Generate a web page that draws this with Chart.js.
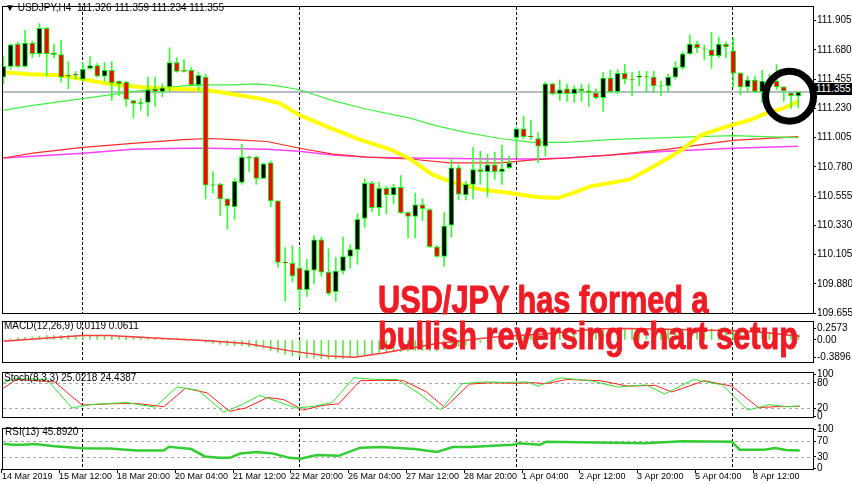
<!DOCTYPE html>
<html><head><meta charset="utf-8">
<script src="https://cdn.jsdelivr.net/npm/chart.js@4.4.1/dist/chart.umd.min.js"></script>
<style>
html,body{margin:0;padding:0;background:#fff;width:852px;height:485px;overflow:hidden;position:relative;font-family:"Liberation Sans",Arial,sans-serif}
canvas{position:absolute;left:0}
.lbl{position:absolute;font-size:10px;color:#000;white-space:pre;line-height:12px}
#note{position:absolute;left:378px;top:282px;color:#ee1c25;font-family:"Liberation Sans Narrow","Liberation Sans",sans-serif;font-weight:bold;font-size:38px;line-height:36px;white-space:pre;transform-origin:0 0;-webkit-text-stroke:1px #ee1c25}
#pbox{position:absolute;left:814px;top:83px;width:38px;height:12px;background:#000;color:#fff;font-size:10px;line-height:12px;padding-left:2px;box-sizing:border-box}
</style></head><body>
<canvas id="cMain" width="852" height="320" style="top:0"></canvas>
<canvas id="cMacd" width="852" height="54" style="top:315px"></canvas>
<canvas id="cSto" width="852" height="58" style="top:366px"></canvas>
<canvas id="cRsi" width="852" height="63" style="top:422px"></canvas>
<div class="lbl" style="left:5px;top:2px">▼ USDJPY,H4  111.326 111.359 111.234 111.355</div>
<div class="lbl" style="left:4px;top:320px">MACD(12,26,9) 0.0119 0.0611</div>
<div class="lbl" style="left:4px;top:372px">Stoch(8,3,3) 25.0218 24.4387</div>
<div class="lbl" style="left:5px;top:426px">RSI(13) 45.8920</div>
<div id="pbox">111.355</div>
<div id="note">USD/JPY has formed a
bullish reversing chart setup</div>
<script>
// ---------- DATA ----------
const opens  = [111.470,111.553,111.725,111.553,111.733,111.650,111.845,111.658,111.643,111.485,111.493,111.455,111.538,111.560,111.478,111.523,111.440,111.433,111.290,111.268,111.275,111.380,111.358,111.395,111.583,111.523,111.523,111.410,111.470,110.638,110.645,110.533,110.473,110.660,110.855,110.855,110.690,110.810,110.518,110.045,110.038,110.000,109.835,109.985,110.218,109.970,109.820,109.978,110.090,110.143,110.383,110.653,110.465,110.615,110.563,110.623,110.428,110.398,110.488,110.450,110.165,110.090,110.330,110.773,110.563,110.645,110.758,110.743,110.795,110.743,110.773,111.005,111.073,111.013,110.998,110.938,111.418,111.343,111.380,111.343,111.380,111.365,111.350,111.313,111.463,111.358,111.500,111.455,111.470,111.478,111.470,111.403,111.403,111.470,111.545,111.650,111.725,111.688,111.680,111.635,111.725,111.673,111.500,111.395,111.448,111.358,111.440,111.440,111.395,111.350,111.326];
const highs  = [111.628,111.725,111.740,111.830,111.748,111.883,111.853,111.725,111.755,111.590,111.515,111.583,111.628,111.575,111.583,111.590,111.440,111.440,111.290,111.305,111.470,111.470,111.418,111.695,111.620,111.605,111.545,111.508,111.493,110.743,110.653,110.533,110.690,110.953,110.863,110.863,110.810,110.825,110.518,110.158,110.173,110.158,110.068,110.248,110.240,110.150,110.083,110.240,110.180,110.420,110.690,110.668,110.660,110.630,110.645,110.713,110.435,110.578,110.533,110.458,110.173,110.428,110.840,110.795,110.668,110.930,110.900,110.878,110.893,110.945,110.863,111.088,111.170,111.140,111.043,111.433,111.425,111.448,111.418,111.403,111.418,111.418,111.380,111.508,111.523,111.530,111.568,111.508,111.515,111.515,111.515,111.440,111.493,111.590,111.665,111.793,111.748,111.718,111.815,111.778,111.740,111.770,111.508,111.478,111.478,111.523,111.493,111.568,111.395,111.350,111.359];
const lows   = [111.418,111.530,111.545,111.545,111.620,111.628,111.478,111.620,111.433,111.380,111.455,111.440,111.530,111.470,111.440,111.290,111.328,111.245,111.155,111.215,111.170,111.245,111.320,111.358,111.508,111.508,111.403,111.365,110.533,110.578,110.405,110.300,110.375,110.645,110.743,110.645,110.690,110.473,110.008,109.745,109.895,109.693,109.783,109.880,109.940,109.790,109.745,109.955,110.000,110.030,110.315,110.435,110.405,110.420,110.495,110.420,110.233,110.233,110.368,110.158,110.083,110.015,110.240,110.525,110.525,110.533,110.645,110.548,110.683,110.645,110.765,110.855,110.998,110.990,110.810,110.863,111.335,111.290,111.283,111.275,111.283,111.245,111.305,111.208,111.350,111.343,111.418,111.328,111.403,111.358,111.358,111.328,111.358,111.455,111.530,111.643,111.658,111.605,111.538,111.620,111.620,111.395,111.335,111.358,111.350,111.275,111.358,111.373,111.283,111.230,111.234];
const closes = [111.553,111.718,111.553,111.733,111.650,111.845,111.650,111.643,111.470,111.478,111.485,111.530,111.560,111.478,111.523,111.425,111.418,111.298,111.268,111.275,111.373,111.358,111.388,111.583,111.515,111.515,111.410,111.485,110.638,110.640,110.533,110.480,110.668,110.855,110.848,110.690,110.803,110.518,110.045,110.040,109.940,109.835,109.985,110.218,109.970,109.805,109.978,110.090,110.143,110.375,110.653,110.465,110.615,110.563,110.623,110.428,110.398,110.488,110.458,110.165,110.090,110.323,110.773,110.570,110.645,110.758,110.743,110.795,110.743,110.765,110.810,111.073,111.013,111.010,110.938,111.418,111.343,111.373,111.343,111.380,111.365,111.350,111.313,111.463,111.358,111.500,111.455,111.452,111.478,111.475,111.403,111.400,111.470,111.545,111.650,111.725,111.695,111.685,111.635,111.725,111.703,111.500,111.395,111.448,111.358,111.440,111.418,111.395,111.365,111.328,111.355];

// moving averages: knot bar index + value
const maYellowIdx = [0,3.7,7.8,10.9,14.8,18.9,23.1,27.9,31.4,35.5,38.3,41.0,45.2,49.3,53.5,56.3,59.4,61.8,65.9,70.1,73.8,76.7,78.8,81.2,86.7,89.4,91.8,94.0,96.4,98.7,100.9,103.3,105.6,107.9,110];
const maYellow    = [111.508,111.493,111.485,111.455,111.418,111.395,111.380,111.373,111.343,111.305,111.268,111.178,111.080,110.990,110.915,110.840,110.720,110.668,110.608,110.578,110.548,110.540,110.578,110.630,110.683,110.765,110.840,110.915,111.020,111.065,111.103,111.140,111.193,111.230,111.283];
const maGreenIdx = [0,4.1,11.0,17.9,24.9,28.6,31.8,35.1,37.9,41.0,45.6,50.3,56.3,59.4,64.1,68.7,73.3,77.9,83.9,91.8,100.9,110];
const maGreen    = [111.215,111.253,111.305,111.358,111.403,111.410,111.410,111.418,111.403,111.373,111.290,111.223,111.155,111.103,111.043,110.998,110.968,110.968,110.990,111.005,111.020,111.005];
const maRedIdx = [0,4.1,11.0,17.9,24.9,28.6,31.8,36.5,41.0,45.6,50.3,56.3,61.8,68.7,73.3,77.9,83.9,91.8,100.9,110];
const maRed    = [110.848,110.885,110.930,110.960,110.990,110.998,110.990,110.975,110.923,110.878,110.855,110.840,110.810,110.810,110.833,110.848,110.870,110.915,110.983,111.013];
const maPinkIdx = [0,11.0,17.9,24.9,28.6,36.5,41.0,45.6,50.3,56.3,68.7,73.3,77.9,83.9,91.8,100.9,110];
const maPink    = [110.848,110.885,110.915,110.923,110.923,110.915,110.900,110.870,110.855,110.848,110.840,110.840,110.848,110.870,110.900,110.923,110.938];

const macdHist = [0.02,0.03,0.05,0.06,0.07,0.09,0.10,0.10,0.10,0.10,0.10,
  0.10,0.10,0.10,0.09,0.09,0.08,0.07,0.06,0.05,0.04,0.04,0.04,
  0.04,0.04,0.03,0.02,0.01,-0.05,-0.08,-0.10,
  -0.12,-0.13,-0.13,-0.15,-0.16,-0.19,-0.24,-0.28,-0.32,-0.36,
  -0.38,-0.40,-0.41,-0.42,-0.43,-0.43,-0.42,-0.40,-0.38,-0.34,
  -0.31,-0.29,-0.27,-0.26,-0.26,-0.25,-0.24,-0.24,-0.24,-0.24,
  -0.22,-0.18,-0.15,-0.12,-0.09,-0.06,-0.04,-0.02,0.00,0.02,
  0.05,0.08,0.10,0.11,0.15,0.17,0.19,0.20,0.21,0.22,
  0.23,0.24,0.24,0.25,0.25,0.25,0.25,0.25,0.25,0.25,
  0.25,0.25,0.25,0.25,0.26,0.26,0.25,0.25,0.25,0.24,
  0.22,0.20,0.19,0.18,0.17,0.16,0.15,0.14,0.13,0.12];
const macdSigIdx = [0,10.9,14.6,22.2,28.3,33.6,39.5,44.9,48.6,52.4,60,67.6,75.1,82.6,86.4,90.1,97.7,101.5,105.3,110.2];
const macdSig    = [-0.03,0.10,0.10,0.03,-0.02,-0.08,-0.24,-0.36,-0.39,-0.30,-0.08,0.06,0.14,0.25,0.257,0.245,0.22,0.205,0.17,0.085];

const stoDIdx = [0,1.8,7.1,10.9,14.7,18.4,22.2,25.2,28.2,31.3,33.5,36.6,38.8,41.5,44.1,46.4,49.4,52.4,55.4,58.5,61.1,64.5,67.5,70.5,73.6,75.1,78.1,82.6,86.4,90.2,92.5,97,100.8,104.5,106.8,110.2];
const stoD    = [67,88,82,27,30,31,23,67,56,12,20,45,40,15,26,30,85,86,85,59,21,77,80,79,80,78,88,85,72,74,58,85,72,21,23,24];
const stoKIdx = [0,1.5,6,9.5,12,17,21,24,27,30.5,33,35.5,38,40.5,43,45.5,48.5,51.5,54.5,57.5,60.5,63.5,66.5,69.5,72.5,74,77,81.5,85,89,91.5,95.5,99.5,103,106,108.5,110.2];
const stoK    = [80,90,88,20,28,33,22,70,62,10,28,50,35,20,24,33,92,88,88,55,15,78,82,81,82,72,92,84,70,75,53,88,75,15,28,23,25];

const rsiIdx = [0,1.3,2.8,4.3,7.1,10.9,14.7,18.4,22.2,22.9,26,27.9,29.8,31.3,32.8,35,37.3,39.6,41.1,43.4,46.4,49.4,52.4,56.9,60,62.2,64.5,70.5,71.3,74.3,75.1,88.7,94,100.8,101.9,105.3,106.8,108.3,110.2];
const rsi    = [63.4,61.1,61.1,62.7,57.3,52.1,51.2,46,46,55.7,49.9,30.8,27.2,27.2,38.4,42.2,38.4,27.2,24.7,34.6,32.4,53.5,55,49.9,42.2,55,55,61.1,64.9,61.1,68.8,64.9,70.1,68.8,48.3,48.3,52.8,47.6,46.1];

const priceTicks = [111.905,111.680,111.455,111.230,111.005,110.780,110.555,110.330,110.105,109.880,109.655];
const macdTicks = [0.2573,0,-0.3896];
const stoTicks = [100,80,20,0];
const rsiTicks = [100,70,30,0];
const timeLabels = ["14 Mar 2019","15 Mar 12:00","18 Mar 20:00","20 Mar 04:00","21 Mar 12:00","22 Mar 20:00","26 Mar 04:00","27 Mar 12:00","28 Mar 20:00","1 Apr 04:00","2 Apr 12:00","3 Apr 20:00","5 Apr 04:00","8 Apr 12:00"];
const timeIdx = [0,8,16,24,32,40,48,56,64,72,80,88,96,104];
const weekSepIdx = [10.9,40.9,70.9,100.9];
const lastPrice = 111.355;
const circleAt = {idx:108.8, price:111.324};

// ---------- HELPERS ----------
const XMIN=-0.05, XMAX=112.04;
const pts=(ix,v)=>ix.map((x,i)=>({x:x,y:v[i]}));
const lineDs=(d,color,w,order)=>({type:'line',data:d,borderColor:color,borderWidth:w,pointRadius:0,tension:0,order:order});
const FONT={family:'Liberation Sans',size:10};

const decor={id:'decor',
  beforeDatasetsDraw(chart,a,o){
    const {ctx,chartArea:ca,scales:{x,y}}=chart;
    ctx.save();
    ctx.strokeStyle='#a8a8a8';ctx.lineWidth=1;ctx.setLineDash([3,3]);
    (o.hl||[]).forEach(v=>{const yy=Math.round(y.getPixelForValue(v))+0.5;ctx.beginPath();ctx.moveTo(ca.left,yy);ctx.lineTo(ca.right,yy);ctx.stroke();});
    ctx.strokeStyle='#000';ctx.setLineDash([3,2]);
    weekSepIdx.forEach(v=>{const xx=Math.round(x.getPixelForValue(v))+0.5;ctx.beginPath();ctx.moveTo(xx,ca.top);ctx.lineTo(xx,ca.bottom);ctx.stroke();});
    ctx.setLineDash([]);
    if(o.price!==undefined){const yy=y.getPixelForValue(o.price);ctx.strokeStyle='#b4bcc6';ctx.lineWidth=2;ctx.beginPath();ctx.moveTo(ca.left,yy);ctx.lineTo(ca.right,yy);ctx.stroke();}
    ctx.restore();
  },
  afterDraw(chart,a,o){
    const {ctx,chartArea:ca,scales:{x,y}}=chart;
    ctx.save();
    ctx.strokeStyle='#000';ctx.lineWidth=1;
    ctx.strokeRect(ca.left-0.5,ca.top-0.5,ca.right-ca.left+1,ca.bottom-ca.top+1);
    if(o.circle){ctx.lineWidth=7;ctx.beginPath();ctx.ellipse(x.getPixelForValue(o.circle.idx),y.getPixelForValue(o.circle.price),24,25,0,0,Math.PI*2);ctx.stroke();}
    if(o.xlabels){ctx.fillStyle='#000';ctx.font='9px "Liberation Sans"';ctx.textBaseline='middle';ctx.lineWidth=1;
      timeIdx.forEach((ix,i)=>{const xx=Math.round(x.getPixelForValue(ix))-2;ctx.beginPath();ctx.moveTo(xx+0.5,ca.bottom);ctx.lineTo(xx+0.5,ca.bottom+4);ctx.stroke();ctx.fillText(timeLabels[i],Math.max(xx,2),ca.bottom+8);});}
    ctx.restore();
  }};

function yAxis(min,max,ticks,fmt){
  return {position:'right',min:min,max:max,
    afterBuildTicks:s=>{s.ticks=ticks.map(v=>({value:v}));},
    afterFit:s=>{s.width=39;},
    grid:{display:true,drawOnChartArea:false,drawTicks:true,tickLength:3,color:'#000'},
    border:{display:false},
    ticks:{font:FONT,color:'#000',padding:1,autoSkip:false,callback:fmt}};
}
function xAxis(){return {type:'linear',min:XMIN,max:XMAX,offset:false,display:false,bounds:'ticks'};}
function mk(id,datasets,y,pad,plug){
  return new Chart(document.getElementById(id),{type:'bar',data:{datasets:datasets},
    options:{responsive:false,animation:false,devicePixelRatio:1,
      layout:{padding:Object.assign({left:3,right:0},pad)},
      plugins:{legend:{display:false},tooltip:{enabled:false},decor:plug},
      datasets:{bar:{grouped:false}},
      scales:{x:xAxis(),y:y}},plugins:[decor]});
}

// ---------- MAIN ----------
const bodies=opens.map((o,i)=>{const lo=Math.min(o,closes[i]),hi=Math.max(o,closes[i]);return {x:i,y:[lo,hi-lo<0.004?lo+0.004:hi]};});
const bodyColors=opens.map((o,i)=>closes[i]>o?'#000000':'#ff0000');
const wicks=highs.map((h,i)=>({x:i,y:[lows[i],h]}));
mk('cMain',[
  {type:'bar',data:bodies,backgroundColor:bodyColors,borderColor:'#00ff00',borderWidth:1,borderSkipped:false,barThickness:5,order:0},
  {type:'bar',data:wicks,backgroundColor:'#33ff33',barThickness:1,order:1},
  lineDs(pts(maYellowIdx,maYellow),'#ffff00',4,2),
  lineDs(pts(maGreenIdx,maGreen),'#40f040',1.2,3),
  lineDs(pts(maRedIdx,maRed),'#ff2a2a',1.2,4),
  lineDs(pts(maPinkIdx,maPink),'#ff40ff',1.4,5)
], yAxis(109.655,112.01,priceTicks,v=>v.toFixed(3)), {top:1,bottom:5},
 {price:lastPrice,circle:circleAt});

// ---------- MACD ----------
mk('cMacd',[
  {type:'bar',data:macdHist.map((v,i)=>({x:i,y:v})),backgroundColor:'#66e04a',barThickness:1,order:1},
  lineDs(pts(macdSigIdx,macdSig),'#ff3a3a',1.5,0)
], yAxis(-0.496,0.404,macdTicks,v=>v===0?'0.00':v.toFixed(4)), {top:2,bottom:3}, {});

// ---------- STOCH ----------
mk('cSto',[
  lineDs(pts(stoDIdx,stoD),'#ff2020',1,1),
  lineDs(pts(stoKIdx,stoK),'#30e030',1,0)
], yAxis(-1.4,103.3,stoTicks,v=>String(v)), {top:2,bottom:2}, {hl:[80,20]});

// ---------- RSI ----------
mk('cRsi',[
  lineDs(pts(rsiIdx,rsi),'#33cc33',2.5,0)
], yAxis(-1.5,101.6,rsiTicks,v=>String(v)), {top:1,bottom:16}, {hl:[70,30],xlabels:true});

// fit annotation width
const n=document.getElementById('note');
const w=n.getBoundingClientRect().width;
n.style.transform='scaleX('+(420/w)+')';
</script>
</body></html>
